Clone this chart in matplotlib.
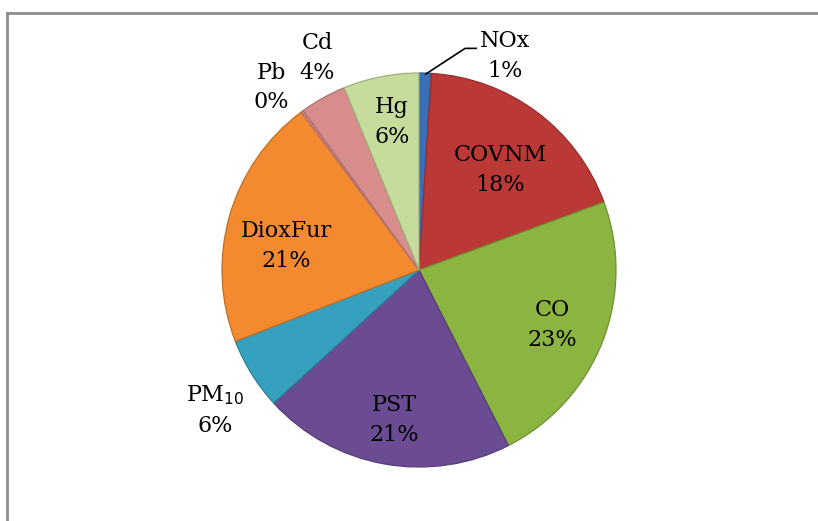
import matplotlib
matplotlib.use('Agg')
import matplotlib.pyplot as plt
import numpy as np
from matplotlib.lines import Line2D

# slice labels and shares (clockwise from 12 o'clock)
labels = ['NOx', 'COVNM', 'CO', 'PST', 'PM$_{10}$', 'DioxFur', 'Pb', 'Cd', 'Hg']
shares = [1.0, 18.4, 23.1, 20.7, 5.9, 20.7, 0.2, 3.8, 6.2]
colors = ['#3a6fb5', '#ba3936', '#8cb440', '#6b4c92', '#35a1be',
          '#f38a2f', '#d98c8c', '#d98c8c', '#c6dc9d']

pct = np.array(shares) / np.sum(shares) * 100

fig = plt.figure(figsize=(8.18, 5.21), dpi=100)
# pie centre (419, 270) px, radius 197 px
ax = fig.add_axes([222 / 818, 54 / 521, 394 / 818, 394 / 521])
wedges, _ = ax.pie(shares, colors=colors, startangle=90, counterclock=False,
                   radius=1.0)
for w, c in zip(wedges, colors):
    # darker rim to hint at the bevel
    rgb = np.array(matplotlib.colors.to_rgb(c))
    w.set_edgecolor(rgb * 0.8)
    w.set_linewidth(0.9)
ax.set_xlim(-1, 1)
ax.set_ylim(-1, 1)
ax.set_aspect('equal')
ax.axis('off')

# label positions in pie units (Excel placed some of them by hand)
label_pos = [(0.437, 1.086), (0.411, 0.508), (0.675, -0.279), (-0.127, -0.761),
             (-1.036, -0.711), (-0.675, 0.122), (-0.751, 0.926), (-0.518, 1.076),
             (-0.137, 0.751)]
for lab, p, (x, y) in zip(labels, pct, label_pos):
    ax.text(x, y, '%s\n%d%%' % (lab, round(p)), ha='center', va='center',
            fontsize=16, family='DejaVu Serif', linespacing=1.45, color='black')

# leader line for NOx
ax.add_line(Line2D([0.035, 0.234, 0.29], [0.995, 1.125, 1.125], color='black',
                   lw=1.2, clip_on=False))

# chart frame (only left and top show)
fig.add_artist(Line2D([7 / 818, 7 / 818], [0, 1 - 13 / 521], color='#8c8c8c', lw=2))
fig.add_artist(Line2D([7 / 818, 1], [1 - 13 / 521, 1 - 13 / 521], color='#8c8c8c', lw=2))

fig.savefig('out.png', dpi=100)
